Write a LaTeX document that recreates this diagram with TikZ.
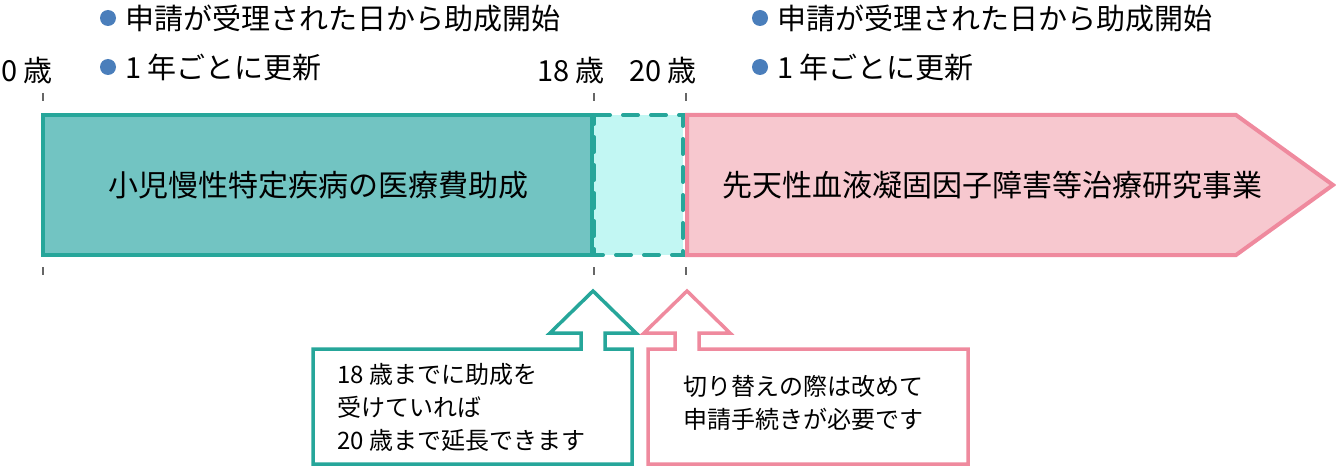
\documentclass[tikz,border=0pt]{standalone}
\usepackage{fontspec}
\newfontfamily\jpfont{Noto Sans CJK JP}
\definecolor{tealline}{HTML}{26A69A}
\definecolor{tealfill}{HTML}{72C4C2}
\definecolor{cyanfill}{HTML}{C2F7F3}
\definecolor{pinkline}{HTML}{EF8A9E}
\definecolor{pinkfill}{HTML}{F7C8CF}
\definecolor{dotblue}{HTML}{4A7EBB}

\begin{document}
\begin{tikzpicture}[x=1pt,y=-1pt,font=\jpfont,
  tickmark/.style={draw=black!60,line width=1.8pt},
  dot/.style={circle,fill=dotblue,inner sep=0pt,minimum size=16pt},
  note/.style={anchor=west,inner sep=0pt,font=\jpfont\fontsize{29}{34}\selectfont},
  age/.style={anchor=base east,inner sep=0pt,font=\jpfont\fontsize{29}{34}\selectfont},
  barlabel/.style={inner sep=0pt,font=\jpfont\fontsize{30}{36}\selectfont},
  calltext/.style={anchor=west,align=left,inner sep=0pt,font=\jpfont\fontsize{24}{33}\selectfont}]
\useasboundingbox (0,0) rectangle (1336,468);
% ages
\foreach \x in {43,594,686} {
  \draw[tickmark] (\x,93)--(\x,101);
  \draw[tickmark] (\x,267)--(\x,275);
}
\node[age] (age0) at (53,82) {0 歳};
\node[age] (age18) at (605,82) {18 歳};
\node[age] (age20) at (697,82) {20 歳};
% bullets
\node[dot] (dotA1) at (108,18) {};
\node[note] (noteA1) at (125,18) {申請が受理された日から助成開始};
\node[dot] (dotA2) at (108,67) {};
\node[note] (noteA2) at (125,67) {1 年ごとに更新};
\node[dot] (dotB1) at (760,18) {};
\node[note] (noteB1) at (777,18) {申請が受理された日から助成開始};
\node[dot] (dotB2) at (760,67) {};
\node[note] (noteB2) at (777,67) {1 年ごとに更新};
% bars
\draw[tealline,fill=cyanfill,line width=4pt,dash pattern=on 15pt off 13pt,dash phase=6pt,line cap=round] (594,115) rectangle (683,255);
\draw[tealline,fill=tealfill,line width=4pt] (43,115) rectangle (592,255);
\draw[pinkline,fill=pinkfill,line width=4pt] (687,115)--(1236,115)--(1333,185)--(1236,255)--(687,255)--cycle;
\node[barlabel] (kids) at (318,185) {小児慢性特定疾病の医療費助成};
\node[barlabel] (hemo) at (992,185) {先天性血液凝固因子障害等治療研究事業};
% callouts
\draw[tealline,fill=white,line width=3.5pt] (313,464)--(313,349)--(581,349)--(581,333)--(550,333)--(593,291)
  --(636,333)--(605,333)--(605,349)--(632,349)--(632,464)--cycle;
\draw[pinkline,fill=white,line width=3.5pt] (648,464)--(648,349)--(675,349)--(675,333)--(644,333)--(687,291)
  --(730,333)--(699,333)--(699,349)--(968,349)--(968,464)--cycle;
\node[calltext] (keep) at (337,407) {18 歳までに助成を\\受けていれば\\20 歳まで延長できます};
\node[calltext] (apply) at (683,403) {切り替えの際は改めて\\申請手続きが必要です};
\end{tikzpicture}
\end{document}
